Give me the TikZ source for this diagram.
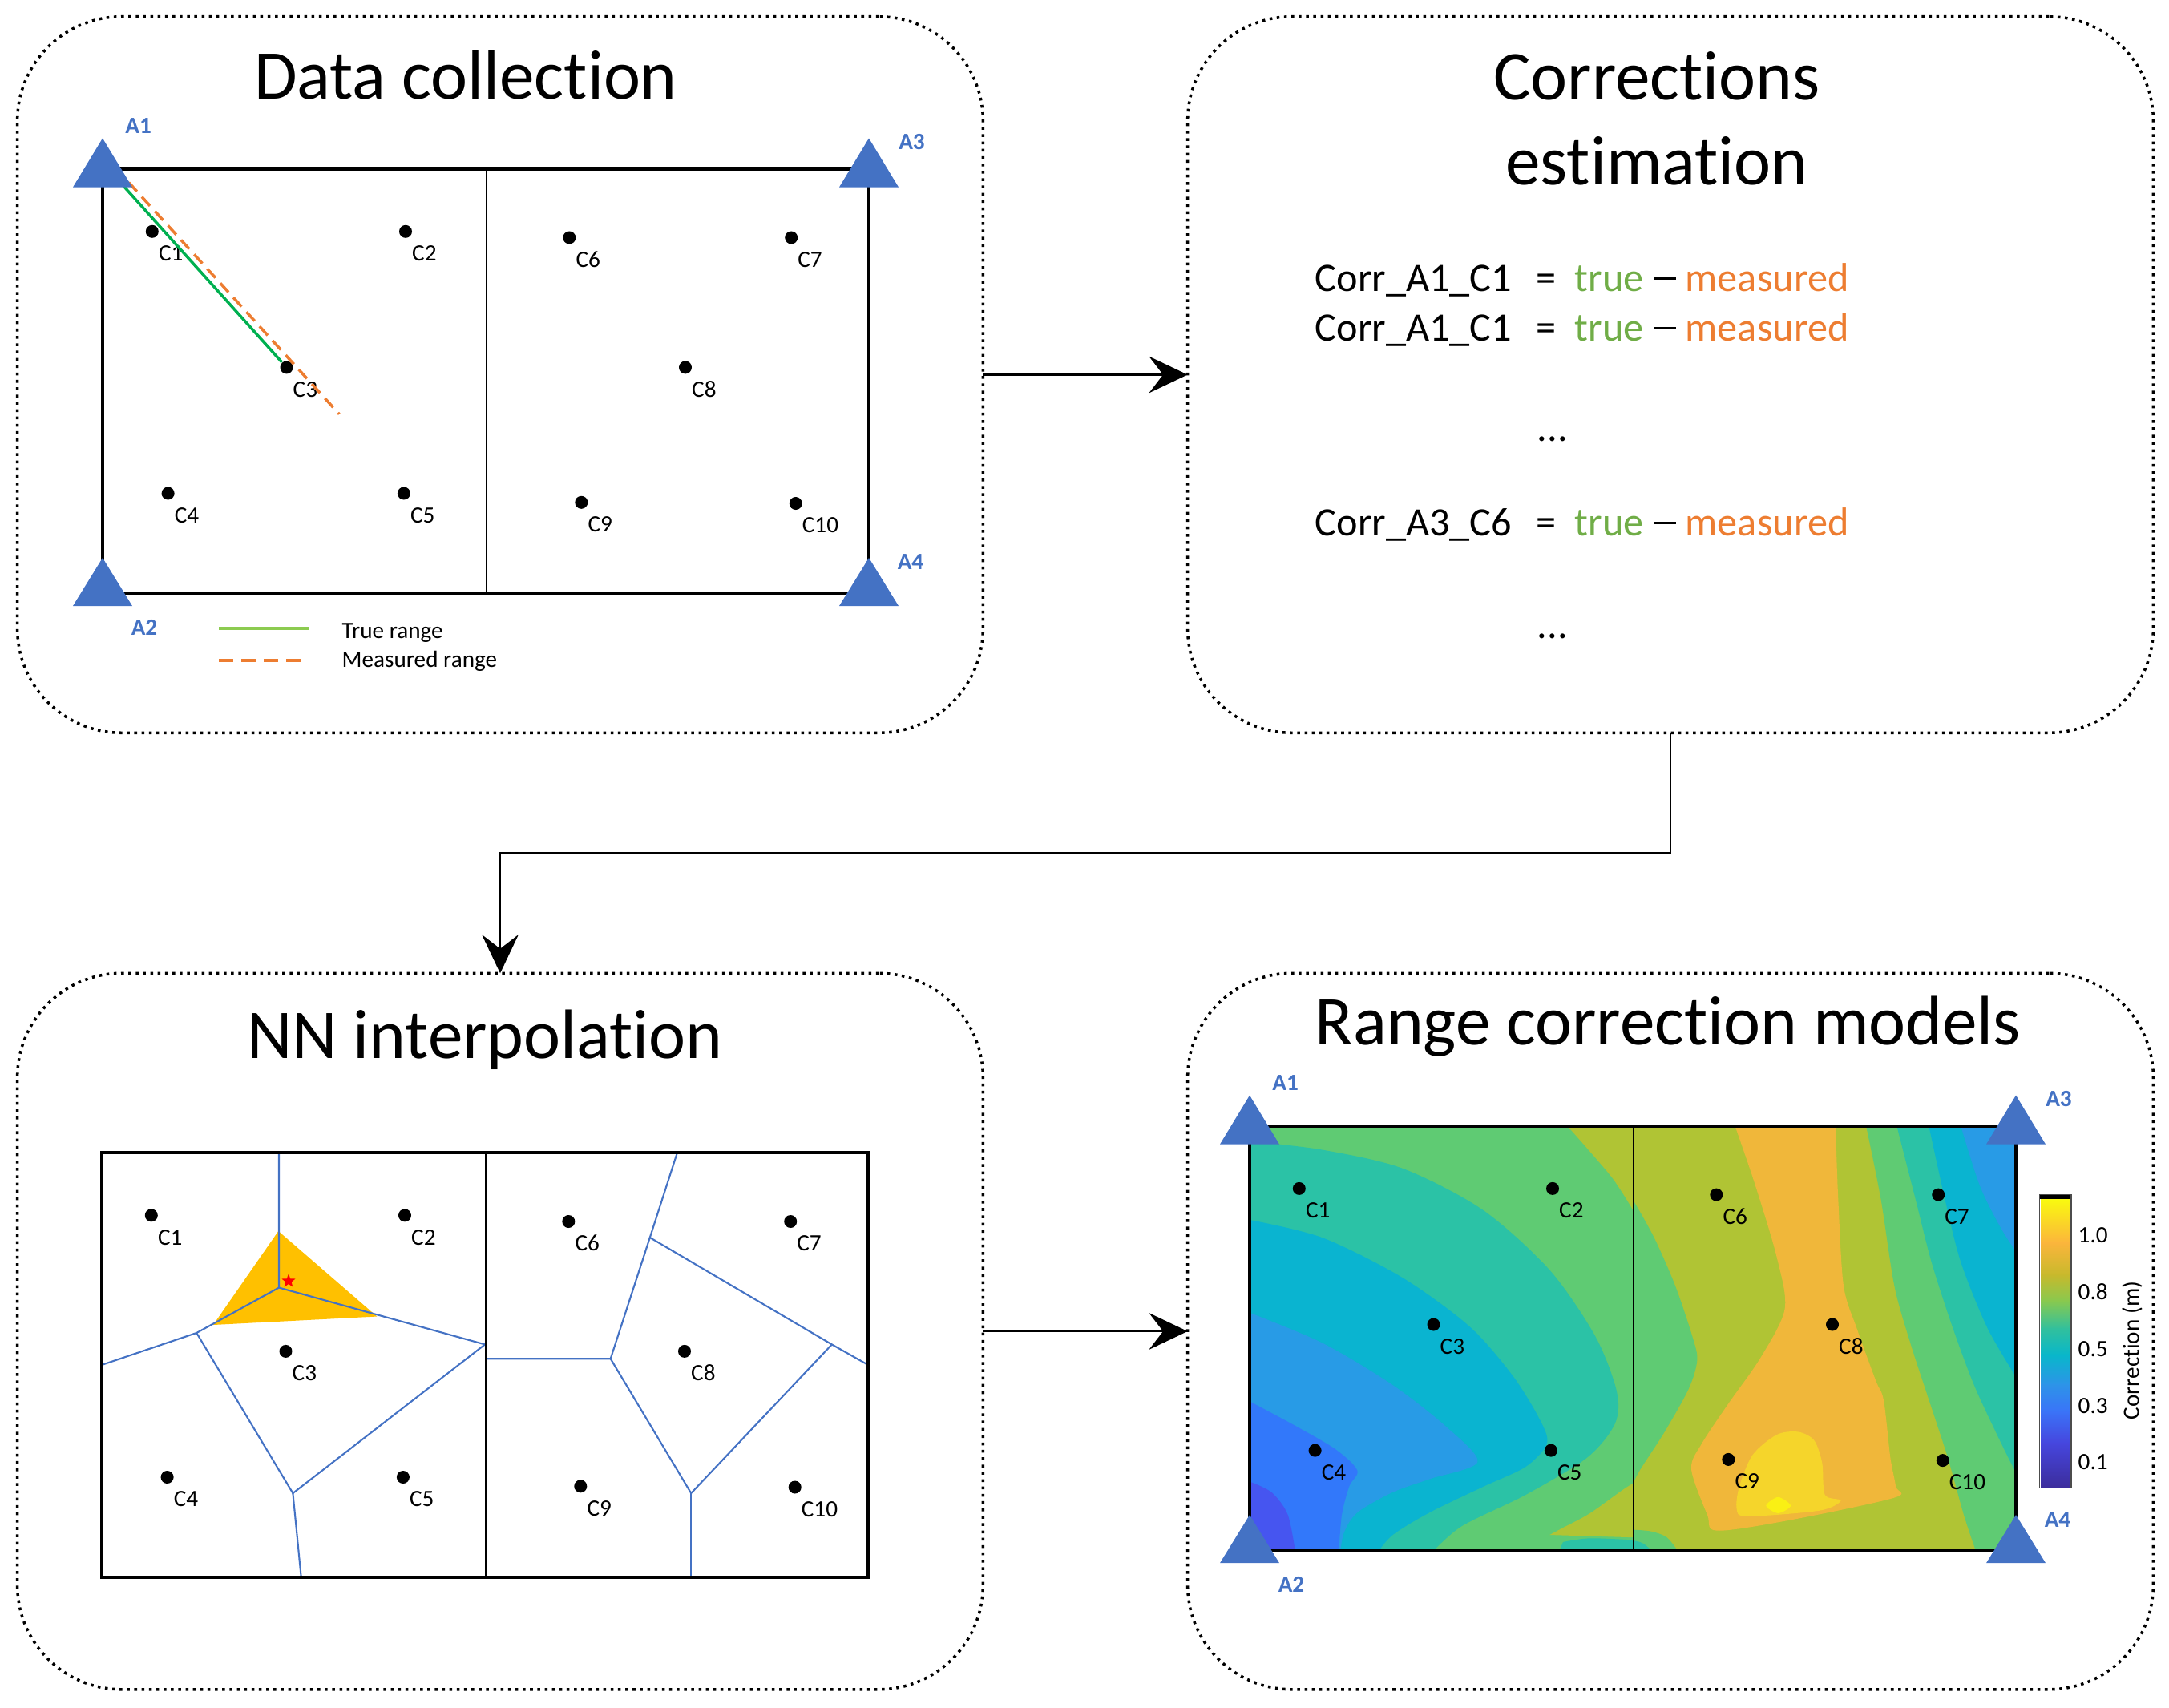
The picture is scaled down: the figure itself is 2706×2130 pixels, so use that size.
\documentclass[tikz,border=0pt]{standalone}
\usepackage{fontspec}
\setmainfont{Carlito}[Ligatures=NoCommon]
\usetikzlibrary{arrows.meta,shapes.geometric}
\definecolor{antblue}{HTML}{4472C4}
\definecolor{truegreen}{HTML}{70AD47}
\definecolor{measorange}{HTML}{ED7D31}
\definecolor{linegreen}{HTML}{00B050}
\definecolor{leggreen}{HTML}{8CCB50}
\definecolor{cellorange}{HTML}{FFC000}
\definecolor{hG}{HTML}{5FCB73}
\definecolor{hT}{HTML}{2BC2A6}
\definecolor{hC}{HTML}{0AB4D0}
\definecolor{hB}{HTML}{289BE6}
\definecolor{hBB}{HTML}{3278FA}
\definecolor{hP}{HTML}{4655F0}
\definecolor{hO}{HTML}{B0C434}
\definecolor{hOr}{HTML}{F0B73A}
\definecolor{hY}{HTML}{F5D52B}
\definecolor{hYY}{HTML}{FAF014}
\definecolor{cba}{HTML}{F9FB0E}
\definecolor{cbb}{HTML}{FBB53C}
\definecolor{cbc}{HTML}{C8B92C}
\definecolor{cbd}{HTML}{88C94F}
\definecolor{cbe}{HTML}{32C09C}
\definecolor{cbf}{HTML}{08B7CA}
\definecolor{cbg}{HTML}{2D94E8}
\definecolor{cbh}{HTML}{3A74F8}
\definecolor{cbi}{HTML}{4646DE}
\definecolor{cbj}{HTML}{3C2D9C}

\tikzset{
  panel/.style={draw=black, line width=1pt, dash pattern=on 1pt off 1.6pt,
    rounded corners=1.3cm, minimum width=12.04cm, minimum height=8.93cm,
    inner sep=0pt, outer sep=0pt},
  flow/.style={line width=0.6pt, -{Stealth[length=13.7pt,width=13pt,inset=5pt]}},
  titletext/.style={font=\fontsize{24.8pt}{30pt}\selectfont, inner sep=0pt, anchor=base},
  eqtext/.style={font=\fontsize{14.3pt}{17pt}\selectfont, inner sep=0pt},
  cdot/.style={circle, fill=black, inner sep=0pt, minimum size=0.16cm},
  clabel/.style={font=\fontsize{8.3pt}{10pt}\selectfont, inner sep=0pt, anchor=base west},
  alabel/.style={font=\fontsize{8.3pt}{10pt}\selectfont\bfseries, text=antblue, inner sep=0pt},
  smalltext/.style={font=\fontsize{8.3pt}{10pt}\selectfont, inner sep=0pt, anchor=base west},
  fieldframe/.style={draw=black, line width=1.15pt},
  divider/.style={draw=black, line width=0.55pt},
  voro/.style={draw=antblue, line width=0.6pt},
}

\newcommand\fieldpts[1]{%
  \foreach \n/\px/\py in {1/61.8/78.3, 2/378/78.3, 3/229.5/247.9, 4/81.6/405, 5/375.9/405, 6/582.3/86, 7/859.2/86, 8/727/247.9, 9/597.3/416.3, 10/864.7/417.5}{%
    \node[cdot] (#1c\n) at (\px,\py) {};
    \node[clabel] (#1l\n) at (\px+7.5,\py+36.7) {C\n};
  }%
}
\newcommand\antennas[1]{%
  \fill[antblue] (0,-38) -- (-37,23) -- (37,23) -- cycle;
  \fill[antblue] (956,-38) -- (919,23) -- (993,23) -- cycle;
  \fill[antblue] (0,485.5) -- (-37,545.5) -- (37,545.5) -- cycle;
  \fill[antblue] (956,485.5) -- (919,545.5) -- (993,545.5) -- cycle;
  \node[alabel] (#1a1) at (44.7,-53.2) {A1};
  \node[alabel] (#1a3) at (1009.5,-33.8) {A3};
  \node[alabel] (#1a2) at (52,572.3) {A2};
  \node[alabel] (#1a4) at (1008,491) {A4};
}
\newcommand\eqdash{\rule[0.28em]{0.54em}{0.055em}}

\begin{document}
\begin{tikzpicture}[x=0.01cm,y=-0.01cm]
\useasboundingbox (0,0) rectangle (2706,2130);

% ---------- panels ----------
\node[panel] (p1) at (624,467.5) {};
\node[panel] (p2) at (2084,467.5) {};
\node[panel] (p3) at (624,1661) {};
\node[panel] (p4) at (2084,1661) {};

\draw[flow] (p1.east) -- (p2.west);
\draw[flow] (p2.south) -- ++(0,149.5) -| (p3.north);
\draw[flow] (p3.east) -- (p4.west);

% ---------- titles ----------
\node[titletext] (t1) at (581,123.3) {Data collection};
\node[titletext] (t2a) at (2067,124.5) {Corrections};
\node[titletext] (t2b) at (2067,230) {estimation};
\node[titletext] (t3) at (605,1320.4) {NN interpolation};
\node[titletext] (t4) at (2081,1303.8) {Range correction models};

% ---------- panel 1 : data collection ----------
\begin{scope}[shift={(128,210.5)}]
  \draw[fieldframe] (0,0) rectangle (956,529.5);
  \draw[divider] (479,0) -- (479,529.5);
  \fieldpts{dc}
\end{scope}
\coordinate (g1) at (128,203);
\coordinate (m1) at (128,191.7);
\coordinate (m2) at (423.3,516.7);
\draw[linegreen, line width=1pt] (g1) -- (dcc3);
\draw[measorange, line width=1pt, dash pattern=on 4.3pt off 2.6pt] (m1) -- (m2);
\begin{scope}[shift={(128,210.5)}]
  \antennas{dc}
\end{scope}
\coordinate (lga) at (273,784);
\coordinate (lgb) at (385,784);
\coordinate (lma) at (273,824);
\coordinate (lmb) at (385,824);
\draw[leggreen, line width=1pt] (lga) -- (lgb);
\draw[measorange, line width=1pt, dash pattern=on 5pt off 3pt] (lma) -- (lmb);
\node[smalltext] (lgt) at (426,796.4) {True range};
\node[smalltext] (lmt) at (426,832) {Measured range};

% ---------- panel 2 : corrections estimation ----------
\foreach \k/\yy/\nm in {a/363.3/Corr\_A1\_C1, b/425/Corr\_A1\_C1, c/668.3/Corr\_A3\_C6}{%
  \node[eqtext, anchor=base west] (eq\k1) at (1640,\yy) {\nm};
  \node[eqtext, anchor=base] (eq\k2) at (1929,\yy) {=};
  \node[eqtext, anchor=base west, text=truegreen] (eq\k3) at (1964,\yy) {true};
  \node[eqtext, anchor=base] (eq\k4) at (2077,\yy) {\eqdash};
  \node[eqtext, anchor=base west, text=measorange] (eq\k5) at (2102,\yy) {measured};
}
\node[eqtext, anchor=base] (dots1) at (1937,550) {...};
\node[eqtext, anchor=base] (dots2) at (1937,796) {...};

% ---------- panel 3 : NN interpolation ----------
\fill[cellorange] (347.3,1536) -- (266,1653) -- (470.3,1642.5) -- cycle;
\draw[voro] (348,1438.4) -- (348,1606.5) -- (605,1677.4);
\draw[voro] (348,1606.5) -- (245.2,1663) -- (127,1702.9);
\draw[voro] (245.2,1663) -- (365.4,1863) -- (605,1677.4);
\draw[voro] (365.4,1863) -- (375.7,1967.5);
\draw[voro] (844.8,1438.4) -- (810.8,1544) -- (1037.8,1677.4) -- (1083,1702.9);
\draw[voro] (810.8,1544) -- (761.7,1695.2) -- (605,1695.2);
\draw[voro] (761.7,1695.2) -- (862.2,1863) -- (1037.8,1677.4);
\draw[voro] (862.2,1863) -- (862.2,1967.5);
\node[star, star points=5, star point ratio=2.4, fill=red, inner sep=0pt, minimum size=0.18cm] (qstar) at (360,1598.3) {};
\begin{scope}[shift={(127,1438)}]
  \draw[fieldframe] (0,0) rectangle (956,529.5);
  \draw[divider] (479,0) -- (479,529.5);
  \fieldpts{nn}
\end{scope}

% ---------- panel 4 : range correction models ----------
\begin{scope}
  \clip (1559,1404.6) rectangle (2038,1934);
  \begin{scope}[shift={(1550,1390)}, xscale=0.33333, yscale=0.357143]
    \fill[hG] (0,0) rectangle (1500,1600);
    \fill[hT] (0,90) -- plot[smooth] coordinates {(30,95) (300,125) (600,190) (900,335) (1150,545) (1320,775) (1400,965) (1395,1080) (1290,1200) (1060,1330) (820,1440) (700,1540)} -- (0,1600) -- cycle;
    \fill[hC] (0,365) -- plot[smooth] coordinates {(30,370) (300,432) (600,572) (850,742) (1010,912) (1110,1062) (1140,1150) (1060,1232) (900,1302) (700,1392) (560,1472) (500,1540)} -- (0,1600) -- cycle;
    \fill[hB] (0,690) -- plot[smooth] coordinates {(30,695) (300,800) (560,945) (760,1090) (880,1215) (700,1275) (560,1322) (430,1392) (380,1462) (365,1540)} -- (0,1600) -- cycle;
    \fill[hBB] (0,1000) -- plot[smooth] coordinates {(30,1005) (200,1090) (350,1172) (430,1245) (400,1300) (372,1400) (360,1540)} -- (0,1600) -- cycle;
    \fill[hP] (0,1280) -- plot[smooth] coordinates {(30,1285) (110,1322) (170,1400) (200,1540)} -- (0,1600) -- cycle;
    \fill[hO] (1215,0) -- plot[smooth] coordinates {(1215,40) (1300,130) (1390,230) (1462,335)} -- (1500,335) -- (1500,0) -- cycle;
    \fill[hO] (1150,1470) -- plot[smooth] coordinates {(1200,1445) (1300,1395) (1420,1315) (1470,1285)} -- (1500,1285) -- (1500,1480) -- cycle;
    \fill[hT] (1180,1540) -- plot[smooth] coordinates {(1200,1495) (1300,1482) (1462,1488)} -- (1500,1540) -- cycle;
  \end{scope}
\end{scope}
\begin{scope}
  \clip (2037,1404.6) rectangle (2515,1934);
  \begin{scope}[shift={(2030,1390)}, xscale=0.33333, yscale=0.357143]
    \fill[hO] (0,0) rectangle (1500,1600);
    \fill[hG] (895,0) -- plot[smooth] coordinates {(895,45) (950,300) (1000,600) (1060,800) (1130,1000) (1200,1200) (1260,1400) (1310,1540)} -- (1500,1600) -- (1500,0) -- cycle;
    \fill[hT] (1010,0) -- plot[smooth] coordinates {(1010,45) (1080,300) (1140,520) (1220,750) (1300,950) (1400,1150) (1470,1280)} -- (1500,1280) -- (1500,0) -- cycle;
    \fill[hC] (1130,0) -- plot[smooth] coordinates {(1130,45) (1190,300) (1250,520) (1350,750) (1470,940)} -- (1500,940) -- (1500,0) -- cycle;
    \fill[hB] (1250,0) -- plot[smooth] coordinates {(1250,45) (1320,250) (1400,400) (1470,500)} -- (1500,500) -- (1500,0) -- cycle;
    \fill[hG] (0,290) -- plot[smooth] coordinates {(22,300) (100,430) (180,600) (245,780) (262,860) (230,960) (140,1110) (50,1240) (22,1290)} -- (0,1300) -- cycle;
    \fill[hG] (0,1450) -- plot[smooth] coordinates {(22,1452) (90,1458) (150,1480) (200,1540)} -- (0,1540) -- cycle;
    \fill[hT] (0,1490) -- plot[smooth] coordinates {(22,1490) (60,1500) (110,1540)} -- (0,1540) -- cycle;
    \fill[hOr] (405,0) -- plot[smooth] coordinates {(405,45) (480,250) (560,500) (590,680) (500,850) (380,1010) (280,1150) (240,1240) (300,1400) (335,1455) (600,1420) (1000,1340) (1005,1300) (985,1200) (960,1000) (930,930) (860,750) (810,600) (790,300) (780,45)} -- (780,0) -- cycle;
    \fill[hY] plot[smooth cycle] coordinates {(410,1380) (420,1300) (470,1190) (560,1120) (640,1110) (700,1140) (730,1220) (740,1330) (800,1350) (720,1385) (450,1405)};
    \fill[hYY] plot[smooth cycle] coordinates {(520,1368) (565,1338) (612,1368) (565,1394)};
  \end{scope}
\end{scope}
\begin{scope}[shift={(1559,1404.6)}]
  \draw[fieldframe] (0,0) rectangle (956,529.5);
  \draw[divider] (479,0) -- (479,529.5);
  \fieldpts{rc}
  \antennas{rc}
\end{scope}

% colour bar
\foreach \ya/\yb/\ca/\cb in {1495/1550/cba/cbb, 1550/1590/cbb/cbc, 1590/1623/cbc/cbd, 1623/1657/cbd/cbe, 1657/1690/cbe/cbf, 1690/1727/cbf/cbg, 1727/1760/cbg/cbh, 1760/1800/cbh/cbi, 1800/1855/cbi/cbj}{%
  \shade[top color=\ca, bottom color=\cb] (2546,\ya) rectangle (2583,\yb+0.8);
}
\fill[black] (2544.5,1490) rectangle (2584,1495.5);
\draw[black!70, line width=0.5pt] (2544.5,1490.5) rectangle (2584,1856.5);
\node[smalltext] (cb10) at (2592,1550) {1.0};
\node[smalltext] (cb08) at (2592,1621.7) {0.8};
\node[smalltext] (cb05) at (2592,1692.7) {0.5};
\node[smalltext] (cb03) at (2592,1763.4) {0.3};
\node[smalltext] (cb01) at (2592,1833.4) {0.1};
\node[font=\fontsize{8.3pt}{10pt}\selectfont, inner sep=0pt, rotate=90] (cbt) at (2660,1685) {Correction (m)};

\end{tikzpicture}
\end{document}
